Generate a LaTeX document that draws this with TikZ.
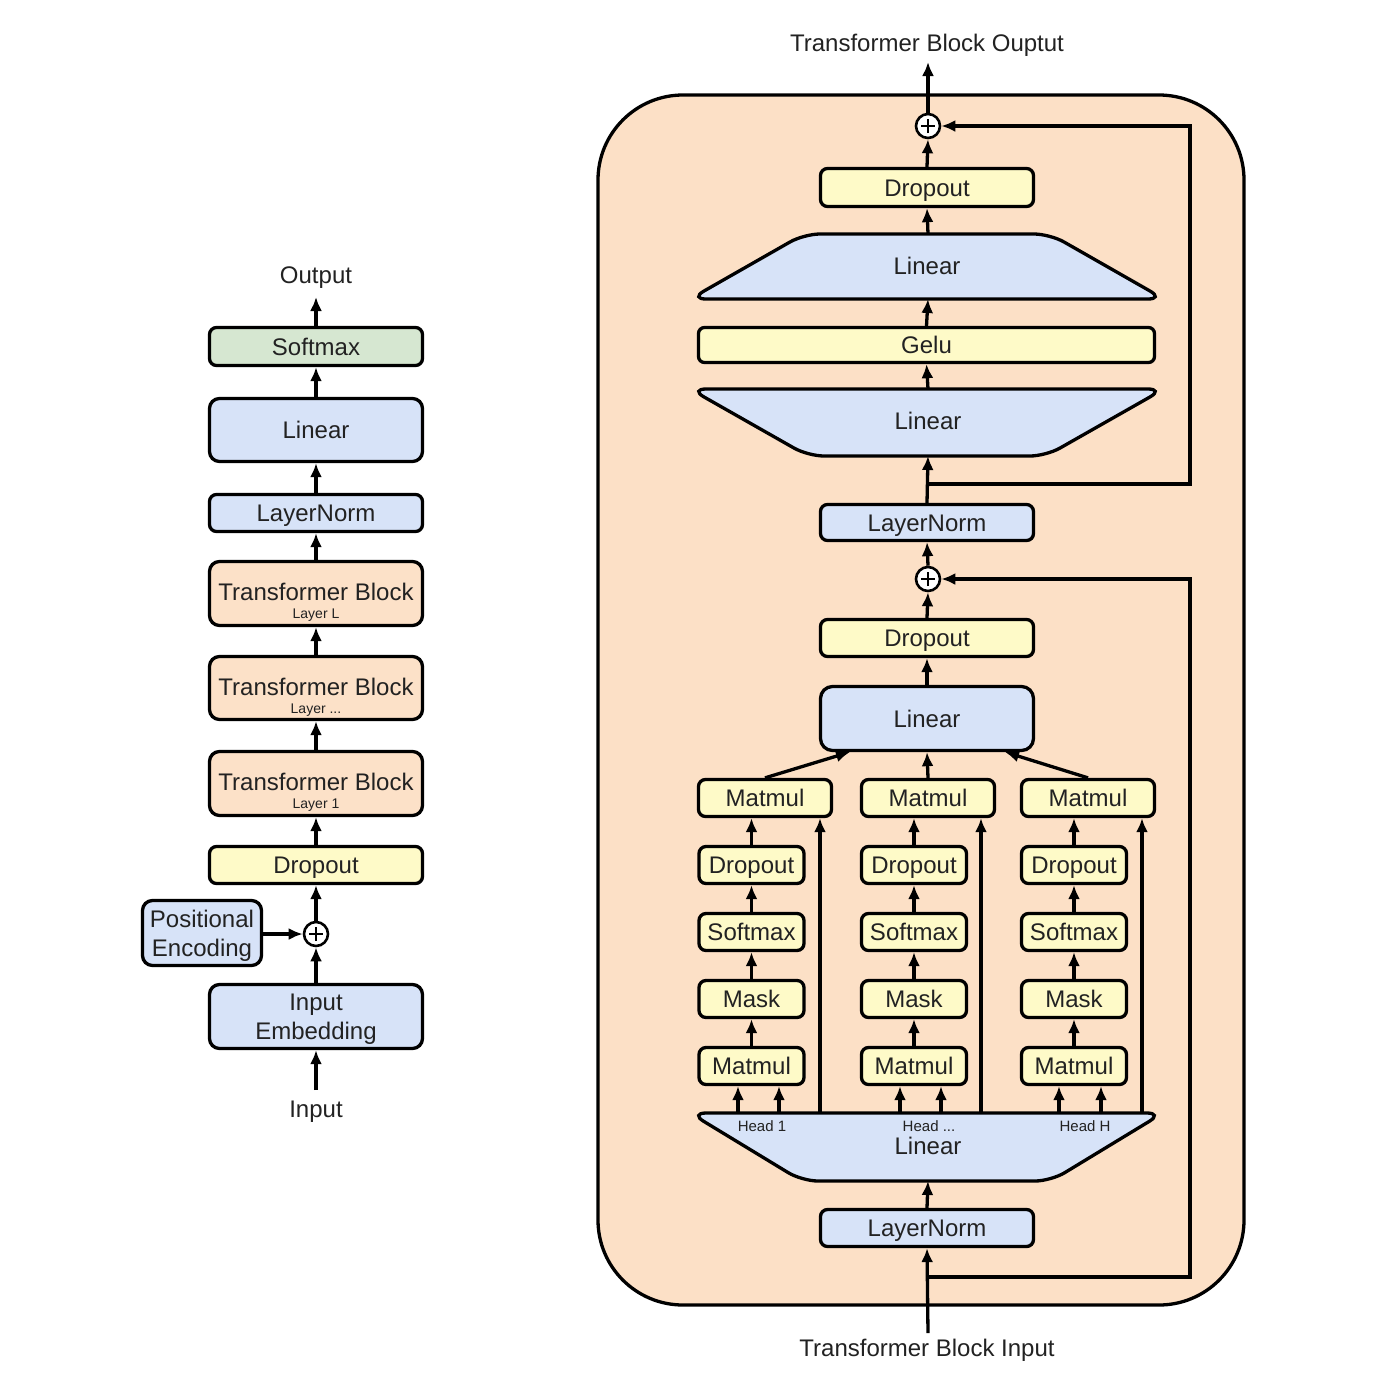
\documentclass[tikz,border=0pt]{standalone}
\usepackage{fontspec}
\setmainfont{Liberation Sans}
\usetikzlibrary{arrows.meta}
\definecolor{bluef}{HTML}{D7E3F8}
\definecolor{yelf}{HTML}{FEFAC8}
\definecolor{orf}{HTML}{FCE1C8}
\definecolor{grf}{HTML}{D6E7D1}
\definecolor{bgf}{HTML}{FCE0C6}
\definecolor{txt}{HTML}{222222}
\begin{document}
\begin{tikzpicture}[x=1pt,y=-1pt,
  box/.style={draw, line width=3.3pt, rounded corners=7pt, inner sep=0pt, text=txt,
    font=\fontsize{24}{29}\selectfont, align=center, text height=17pt, text depth=0pt},
  twoline/.style={text height=46pt, text depth=0pt},
  bbox/.style={box, fill=bluef},
  ybox/.style={box, fill=yelf},
  obox/.style={box, fill=orf},
  gbox/.style={box, fill=grf},
  lbl/.style={text=txt, font=\fontsize{24}{29}\selectfont, inner sep=0pt, text height=17pt, text depth=0pt},
  small/.style={text=txt, font=\fontsize{15}{17}\selectfont, inner sep=0pt, text height=10.7pt, text depth=0pt},
  tiny/.style={text=txt, font=\fontsize{14}{16}\selectfont, inner sep=0pt, text height=10pt, text depth=0pt},
  arr/.style={line width=3.3pt, -{Latex[length=14pt,width=12pt]}},
  plus/.style={circle, draw, line width=2.6pt, fill=white, minimum size=24pt, inner sep=0pt},
  trap/.style={draw, line width=3.3pt, fill=bluef, rounded corners=16pt}
]
\useasboundingbox (0,0) rectangle (1392,1382);
\fill[white] (0,0) rectangle (1392,1382);

% ================= LEFT COLUMN =================
\node[lbl] (out) at (316,274.5) {Output};
\node[gbox, minimum width=213, minimum height=38] (lsm) at (316,346.5) {Softmax};
\node[bbox, minimum width=213, minimum height=63, rounded corners=10pt] (llin) at (316,430) {Linear};
\node[bbox, minimum width=213, minimum height=37] (lln) at (316,513) {LayerNorm};
\node[obox, minimum width=213, minimum height=64, rounded corners=10pt] (tbL) at (316,593.5) {};
\node[lbl] (tbLt) at (316,592) {Transformer Block};
\node[tiny] (tbLs) at (316,613.5) {Layer L};
\node[obox, minimum width=213, minimum height=63, rounded corners=10pt] (tbM) at (316,688) {};
\node[lbl] (tbMt) at (316,686.5) {Transformer Block};
\node[tiny] (tbMs) at (316,708) {Layer ...};
\node[obox, minimum width=213, minimum height=64, rounded corners=10pt] (tb1) at (316,783.5) {};
\node[lbl] (tb1t) at (316,782) {Transformer Block};
\node[tiny] (tb1s) at (316,803.5) {Layer 1};
\node[ybox, minimum width=213, minimum height=37] (ldo) at (316,865) {Dropout};
\node[plus] (lp) at (316,934) {};
\draw[line width=2pt] ([xshift=-7pt]lp.center) -- ([xshift=7pt]lp.center);
\draw[line width=2pt] ([yshift=-7pt]lp.center) -- ([yshift=7pt]lp.center);
\node[bbox, twoline, minimum width=119, minimum height=65, rounded corners=10pt] (pe) at (202,933) {Positional\\Encoding};
\node[bbox, twoline, minimum width=213, minimum height=64, rounded corners=10pt] (ie) at (316,1016.5) {Input\\Embedding};
\node[lbl] (inp) at (316,1108.5) {Input};
\coordinate (lo) at (316,297);
\coordinate (li) at (316,1090);

\draw[arr] (lsm.north) -- (lo);
\draw[arr] (llin.north) -- (lsm.south);
\draw[arr] (lln.north) -- (llin.south);
\draw[arr] (tbL.north) -- (lln.south);
\draw[arr] (tbM.north) -- (tbL.south);
\draw[arr] (tb1.north) -- (tbM.south);
\draw[arr] (ldo.north) -- (tb1.south);
\draw[arr] (lp.north) -- (ldo.south);
\draw[arr] (ie.north) -- (lp.south);
\draw[arr] (pe.east |- lp) -- (lp.west);
\draw[arr] (li) -- (ie.south);

% ================= RIGHT BLOCK =================
\draw[line width=3.3pt, fill=bgf, rounded corners=85pt] (598,95) rectangle (1244,1305);

\node[lbl] (tbo) at (927,43) {Transformer Block Ouptut};
\coordinate (oo) at (928,62);
\node[plus] (p1) at (928,126) {};
\draw[line width=2pt] ([xshift=-7pt]p1.center) -- ([xshift=7pt]p1.center);
\draw[line width=2pt] ([yshift=-7pt]p1.center) -- ([yshift=7pt]p1.center);
\node[ybox, minimum width=213, minimum height=38] (do1) at (927,187.5) {Dropout};

% upper linear (widening downwards)
\draw[trap] (804,234) -- (1050,234) -- (1164,299) -- (690,299) -- cycle;
\node[lbl] (lin2) at (927,266) {Linear};
\coordinate (l2t) at (928,234);
\coordinate (l2b) at (928,299);
\node[ybox, minimum width=456, minimum height=35, rounded corners=6pt] (gelu) at (926.5,345) {Gelu};
% lower linear (narrowing downwards)
\draw[trap] (690,389) -- (1164,389) -- (1046,456) -- (808,456) -- cycle;
\node[lbl] (lin1) at (928,420.5) {Linear};
\coordinate (l1t) at (928,389);
\coordinate (l1b) at (928,456);

\node[bbox, minimum width=213, minimum height=36] (ln1) at (927,522.5) {LayerNorm};
\node[plus] (p2) at (928,579) {};
\draw[line width=2pt] ([xshift=-7pt]p2.center) -- ([xshift=7pt]p2.center);
\draw[line width=2pt] ([yshift=-7pt]p2.center) -- ([yshift=7pt]p2.center);
\node[ybox, minimum width=213, minimum height=37] (do2) at (927,638) {Dropout};
\node[bbox, minimum width=213, minimum height=64, rounded corners=12pt] (lm) at (927,718.5) {Linear};

% heads: top matmul row
\node[ybox, minimum width=133, minimum height=37] (mt1) at (765,798) {Matmul};
\node[ybox, minimum width=133, minimum height=37] (mt2) at (928,798) {Matmul};
\node[ybox, minimum width=133, minimum height=37] (mt3) at (1088,798) {Matmul};
% columns
\foreach \c/\x in {1/751.5, 2/914, 3/1074} {
  \node[ybox, minimum width=105, minimum height=37] (dd\c) at (\x,865) {Dropout};
  \node[ybox, minimum width=105, minimum height=37] (ss\c) at (\x,932) {Softmax};
  \node[ybox, minimum width=105, minimum height=37] (mk\c) at (\x,999) {Mask};
  \node[ybox, minimum width=105, minimum height=37] (mb\c) at (\x,1066) {Matmul};
}

% head linear
\draw[trap] (690,1113) -- (1163,1113) -- (1051,1181) -- (802,1181) -- cycle;
\node[lbl] (lin0) at (928,1146) {Linear};
\node[small] (h1) at (762,1125.7) {Head 1};
\node[small] (h2) at (929,1125.7) {Head ...};
\node[small] (h3) at (1085,1125.7) {Head H};
\coordinate (l0b) at (928,1181);

\node[bbox, minimum width=213, minimum height=37] (ln0) at (927,1228) {LayerNorm};
\node[lbl] (tbi) at (927,1348) {Transformer Block Input};
\coordinate (ib) at (928,1333);

% ---- connectors ----
\draw[arr] (p1.north) -- (oo);
\draw[arr] (do1.north) -- (p1.south);
\draw[arr] (l2t) -- (do1.south);
\draw[arr] (gelu.north) -- (l2b);
\draw[arr] (l1t) -- (gelu.south);
\draw[arr] (ln1.north) -- (l1b);
\draw[arr] (p2.north) -- (ln1.south);
\draw[arr] (do2.north) -- (p2.south);
\draw[arr] (lm.north) -- (do2.south);

\coordinate (rx) at (1190,0);
\coordinate (r1) at (928,484);
\coordinate (r2) at (928,1277);
\draw[arr] (r1) -- (r1 -| rx) -- (rx |- p1) -- (p1.east);
\draw[arr] (r2) -- (r2 -| rx) -- (rx |- p2) -- (p2.east);

\coordinate (lma) at (850,752);
\coordinate (lmc) at (1005,752);
\draw[arr] (mt1.north) -- (lma);
\draw[arr] (mt2.north) -- (lm.south);
\draw[arr] (mt3.north) -- (lmc);

\foreach \c in {1,2,3} {
  \draw[arr] (dd\c.north) -- (dd\c.north |- mt\c.south);
  \draw[arr] (ss\c.north) -- (dd\c.south);
  \draw[arr] (mk\c.north) -- (ss\c.south);
  \draw[arr] (mb\c.north) -- (mk\c.south);
}
\foreach \x/\c in {738/1, 779/1, 900/2, 941/2, 1059/3, 1101/3} {
  \coordinate (ha) at (\x,1113);
  \draw[arr] (ha) -- (ha |- mb\c.south);
}
\foreach \x/\c in {820/1, 981/2, 1142/3} {
  \coordinate (hl) at (\x,1113);
  \draw[arr] (hl) -- (hl |- mt\c.south);
}
\draw[arr] (ln0.north) -- (l0b);
\draw[arr] (ib) -- (ln0.south);
\end{tikzpicture}
\end{document}
